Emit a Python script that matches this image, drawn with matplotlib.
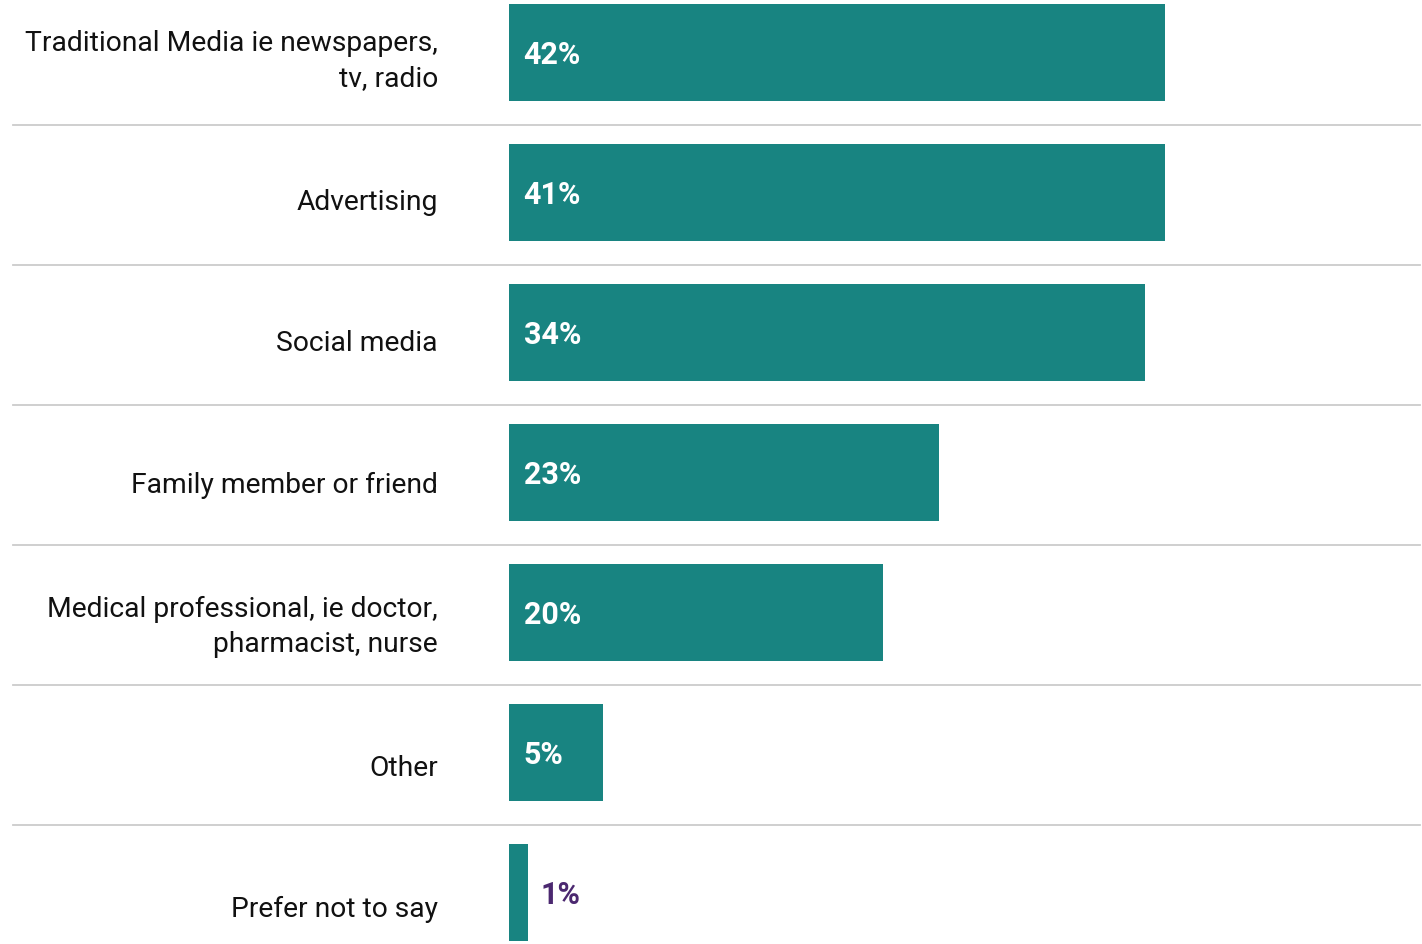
import matplotlib.pyplot as plt
from matplotlib import transforms
from matplotlib.lines import Line2D

categories = [
    "Traditional Media ie newspapers,\ntv, radio",
    "Advertising",
    "Social media",
    "Family member or friend",
    "Medical professional, ie doctor,\npharmacist, nurse",
    "Other",
    "Prefer not to say",
]
values = [42, 41, 34, 23, 20, 5, 1]

TEAL = "#188481"
PURPLE = "#4b2870"
LINE = "#cccccc"

plt.rcParams["font.family"] = ["Roboto", "DejaVu Sans"]

fig = plt.figure(figsize=(14.22, 9.45), dpi=100)
ax = fig.add_axes([509 / 1422, 0, (1165 - 509) / 1422, 1])

y = list(range(len(categories)))
ax.barh(y, values, height=0.686, color=TEAL)

# scale is capped at 35 so the largest bars run to the axes edge
ax.set_xlim(0, 35.08)
top = 53.5
ax.set_ylim((945 - top) / 140, -top / 140)
ax.axis("off")

for i, (cat, v) in enumerate(zip(categories, values)):
    ax.text(-71 / 18.7, 0.054 + 1.01 * i, cat, ha="right", va="center",
            fontsize=20.3, color="#111111", linespacing=1.37)
    if v >= 3:
        ax.annotate(f"{v}%", (0, i + 0.012), xytext=(10.5, 0), textcoords="offset points",
                    ha="left", va="center", fontsize=22, fontweight="bold",
                    color="white")
    else:
        ax.annotate(f"{v}%", (v, i + 0.012), xytext=(9, 0), textcoords="offset points",
                    ha="left", va="center", fontsize=22, fontweight="bold",
                    color=PURPLE)

# row separators spanning the full width
trans = transforms.blended_transform_factory(fig.transFigure, ax.transData)
for i in range(len(categories) - 1):
    fig.add_artist(Line2D([13 / 1422, 1420 / 1422], [i + 0.52, i + 0.52],
                          transform=trans, color=LINE, lw=1.3))

fig.savefig("out.png", dpi=100)
